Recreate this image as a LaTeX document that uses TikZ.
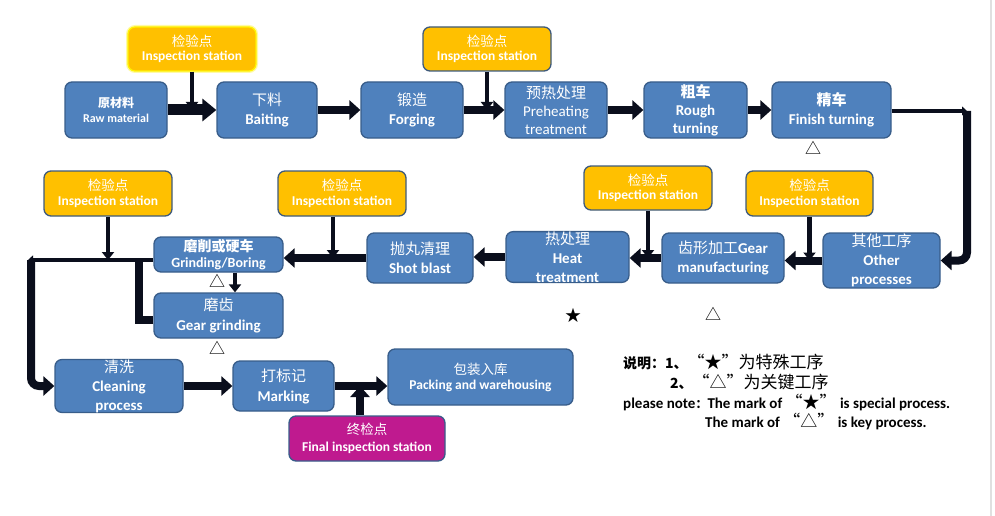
\documentclass[tikz,border=0pt]{standalone}
\usepackage{fontspec}
\setmainfont{Carlito}
\newfontfamily\cjk{Noto Sans CJK SC}
\usetikzlibrary{arrows.meta}
\definecolor{procfill}{HTML}{4F81BD}
\definecolor{procline}{HTML}{385D8A}
\definecolor{inspfill}{HTML}{FFC000}
\definecolor{inspline}{HTML}{3E5A7C}
\definecolor{finfill}{HTML}{BF1A8F}
\definecolor{arrowc}{HTML}{0A0E1C}
\newcommand{\zh}[1]{{\cjk\mdseries #1}}
\newcommand{\zhb}[1]{{\cjk\bfseries #1}}
\newcommand{\zhbig}[1]{{\cjk\mdseries\fontsize{17pt}{17pt}\selectfont #1}}
\tikzset{
  proc/.style={rectangle,rounded corners=7pt,draw=procline,fill=procfill,line width=1.3pt,
    text=white,align=center,inner sep=0pt,font=\fontsize{15pt}{19pt}\selectfont},
  sz/.style 2 args={minimum width=#1pt,minimum height=#2pt},
  insp/.style={proc,fill=inspfill,draw=inspline,sz={128}{44},font=\fontsize{13.5pt}{14.5pt}\selectfont\bfseries},
  glow/.style={draw=yellow,preaction={draw=yellow!35,line width=4pt}},
  flow/.style={line width=8pt,draw=arrowc,-{Triangle[length=11pt,width=19pt]}},
  flowbig/.style={line width=11pt,draw=arrowc,-{Triangle[length=14pt,width=22pt]}},
  feed/.style={line width=4.5pt,draw=arrowc,-{Triangle[length=8pt,width=12pt]}},
  thin/.style={line width=4.5pt,draw=arrowc,-{Triangle[length=5pt,width=9pt]}},
  mk/.style={inner sep=0pt,font=\cjk\fontsize{16pt}{16pt}\selectfont},
  note/.style={anchor=west,inner sep=0pt,font=\fontsize{15pt}{17pt}\selectfont\bfseries}
}
\begin{document}
\begin{tikzpicture}[x=1pt,y=-1pt]
\useasboundingbox (0,0) rectangle (995,516);
\draw[black!12,line width=1.5pt] (991,0) -- (991,516);
% first row
\node[proc,sz={102}{56},font=\fontsize{12pt}{15pt}\selectfont\bfseries] (raw) at (116,110) {\zhb{原材料}\\Raw material};
\node[insp,glow] (insp1) at (192,49) {\zh{检验点}\\Inspection station};
\node[proc,sz={100}{56}] (bait) at (267,110) {\zh{下料}\\\textbf{Baiting}};
\node[proc,sz={102}{56}] (forg) at (412,110) {\zh{锻造}\\\textbf{Forging}};
\node[insp] (insp2) at (487,49) {\zh{检验点}\\Inspection station};
\node[proc,sz={102}{56},font=\fontsize{15pt}{18pt}\selectfont] (preh) at (556,110) {\zh{预热处理}\\Preheating\\treatment};
\node[proc,sz={103}{56},font=\fontsize{15pt}{18pt}\selectfont\bfseries] (rough) at (695.5,110) {\zhb{粗车}\\Rough\\turning};
\node[proc,sz={119}{56}] (finish) at (831.5,110) {\zhb{精车}\\\textbf{Finish turning}};
% second row
\node[proc,sz={117}{55},font=\fontsize{15pt}{19pt}\selectfont\bfseries] (other) at (881.5,260.5) {\zh{其他工序}\\Other\\processes};
\node[insp,sz={127}{45}] (insp5) at (809.5,193.5) {\zh{检验点}\\Inspection station};
\node[proc,sz={122}{50},font=\fontsize{15pt}{19pt}\selectfont\bfseries] (gear) at (723,258) {\zh{齿形加工}Gear\\manufacturing};
\node[insp] (insp4) at (648,188) {\zh{检验点}\\Inspection station};
\node[proc,sz={123}{50},font=\fontsize{15pt}{19pt}\selectfont\bfseries] (heat) at (567.5,257) {\zh{热处理}\\Heat\\treatment};
\node[proc,sz={106}{50}] (shot) at (420,258) {\zh{抛丸清理}\\\textbf{Shot blast}};
\node[insp,sz={128}{45}] (insp3) at (342,193.5) {\zh{检验点}\\Inspection station};
\node[proc,sz={129}{35},font=\fontsize{14pt}{16pt}\selectfont\bfseries] (grb) at (218.5,254.5) {\zhb{磨削或硬车}\\Grinding/Boring};
\node[proc,sz={129}{45},font=\fontsize{15pt}{20pt}\selectfont\bfseries] (ggr) at (218.5,315.5) {\zh{磨齿}\\Gear grinding};
\node[insp,sz={128}{45}] (insp6) at (108,193.5) {\zh{检验点}\\Inspection station};
% third row
\node[proc,sz={128}{52},font=\fontsize{15pt}{19pt}\selectfont\bfseries] (clean) at (119,386) {\zh{清洗}\\Cleaning\\process};
\node[proc,sz={101}{50},font=\fontsize{15pt}{20pt}\selectfont\bfseries] (mark) at (283.5,386) {\zh{打标记}\\Marking};
\node[proc,sz={185}{56},font=\fontsize{13.5pt}{15pt}\selectfont\bfseries] (pack) at (480.5,377) {\zh{包装入库}\\Packing and warehousing};
\node[proc,fill=finfill,sz={156}{45},font=\fontsize{13.5pt}{17pt}\selectfont\bfseries] (final) at (367,438.5) {\zh{终检点}\\Final inspection station};
% key marks
\node[mk] (kfin) at (813,148) {△};
\node[mk] (kgear) at (713,314) {△};
\node[mk] (sheat) at (573,315) {★};
\node[mk] (kgrb) at (217,281) {△};
\node[mk] (kggr) at (217,348) {△};
% notes
\node[note] (n1) at (623,362) {{\cjk\fontsize{14pt}{15pt}\selectfont 说明：1、}\zhbig{“★”为特殊工序}};
\node[note] (n2) at (670,382) {{\cjk\fontsize{14pt}{15pt}\selectfont 2、}\zhbig{“△”为关键工序}};
\node[note] (n3) at (623,402) {please note{\cjk\fontsize{12pt}{13pt}\selectfont ：}The mark of \zhbig{“★”} is special process.};
\node[note] (n4) at (705,421) {The mark of \zhbig{“△”} is key process.};
% connectors, first row
\draw[flowbig] (raw.east) -- (bait.west);
\draw[flow] (bait) -- (forg);
\draw[flow] (forg) -- (preh);
\draw[flow] (preh) -- (rough);
\draw[flow] (rough) -- (finish);
\draw[feed] (insp1.south) -- (insp1.south |- bait.west);
\draw[feed] (insp2.south) -- (insp2.south |- preh.west);
\coordinate (ne) at (967,111);
\draw[thin] (finish.east |- ne) -- (ne);
\draw[flow,rounded corners=8pt] (ne) |- (other.east);
% second row
\draw[flow] (other.west) -- (other.west -| gear.east);
\draw[flow] (gear) -- (gear -| heat.east);
\draw[flow] (heat.west) -- (heat.west -| shot.east);
\draw[flow] (shot) -- (grb.east |- shot.west);
\draw[feed] (insp5.south) -- (insp5.south |- other.west);
\draw[feed] (insp4.south) -- (insp4.south |- gear.west);
\draw[feed] ([xshift=-9pt]insp3.south) -- ([xshift=-9pt]insp3.south |- shot.west);
\draw[feed] ([xshift=16.5pt]grb.south) -- ([xshift=16.5pt]ggr.north);
\coordinate (wl) at (28,260);
\coordinate (wd) at (31,260);
\draw[thin] (grb.west |- wl) -- (wl);
\draw[feed] (insp6.south) -- (insp6.south |- wl);
\draw[line width=8pt,draw=arrowc] ([yshift=-4.5pt]ggr.west) -| (139,260);
\draw[flow,rounded corners=8pt] (wd) |- (clean.west);
% third row
\draw[flow] (clean) -- (mark);
\draw[flow] (mark.east) -- (mark.east -| pack.west);
\draw[flow] ([xshift=-7pt]final.north) -- ([xshift=-7pt]final.north |- mark.east);
\end{tikzpicture}
\end{document}
